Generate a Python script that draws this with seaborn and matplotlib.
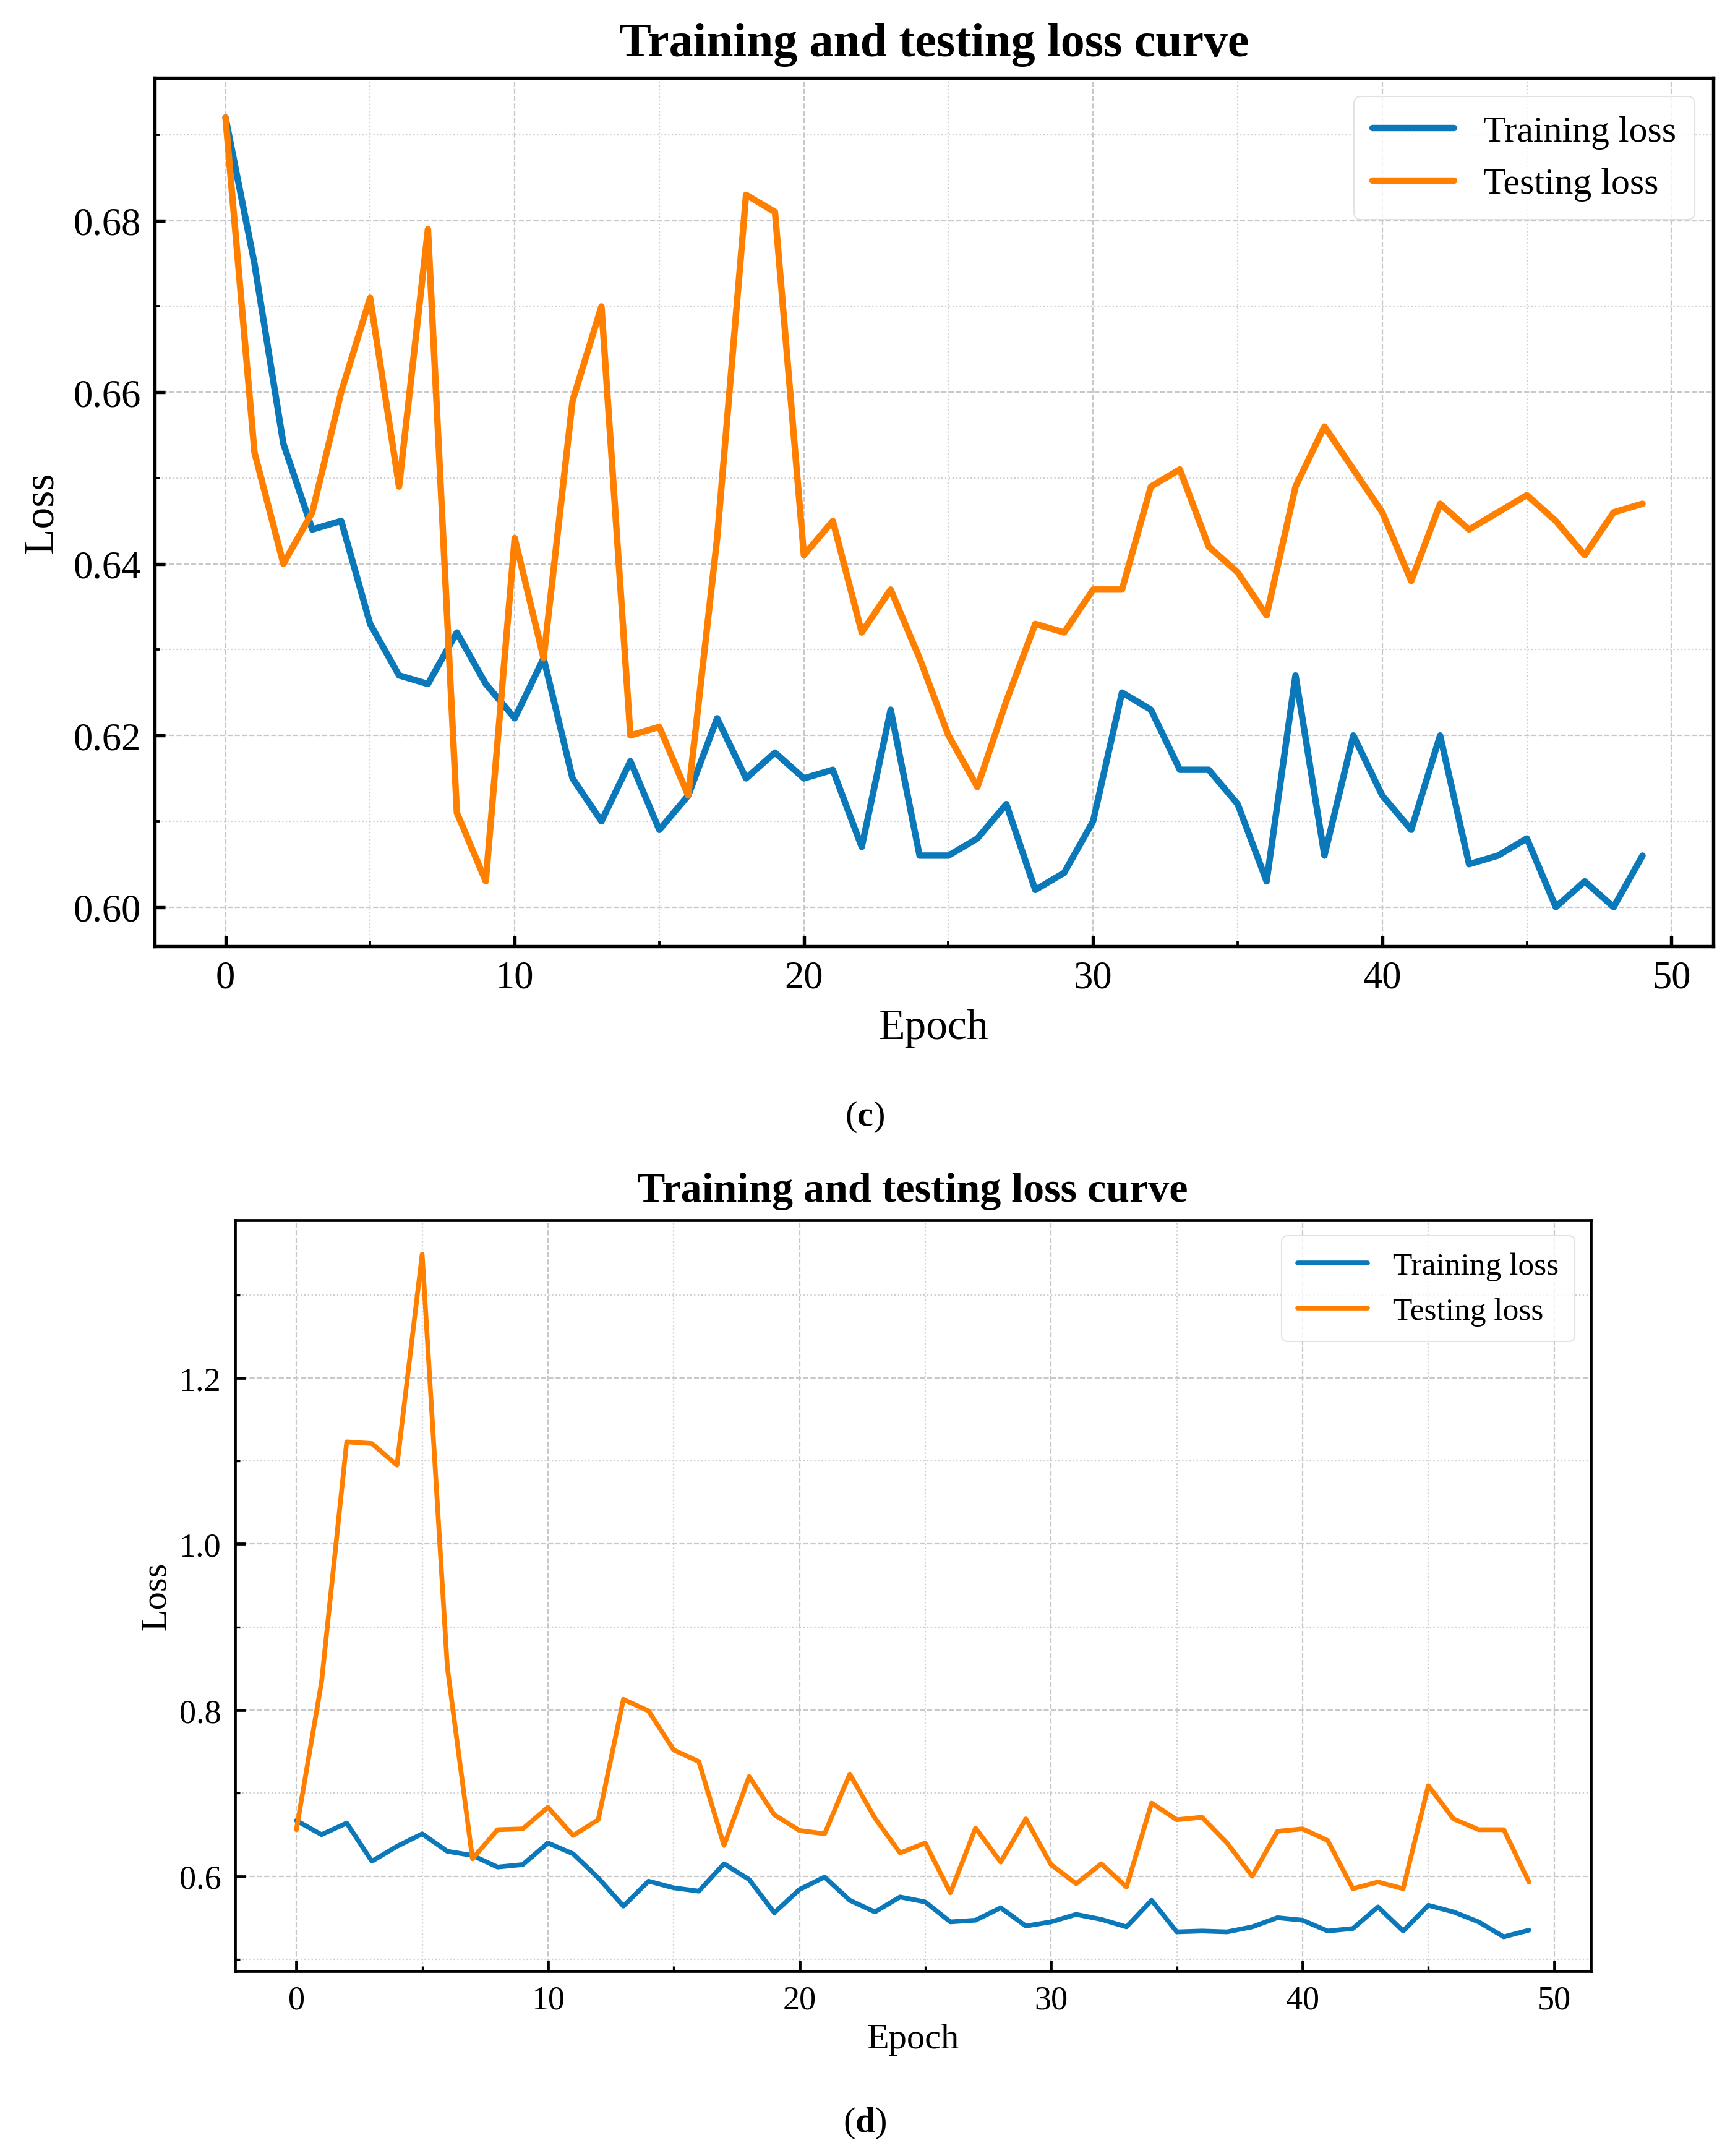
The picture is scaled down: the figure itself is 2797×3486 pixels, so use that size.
import numpy as np
import pandas as pd
import matplotlib
matplotlib.use('Agg')
import matplotlib.pyplot as plt
import seaborn as sns
from matplotlib.ticker import MultipleLocator

# values, one per epoch
epochs = list(range(50))

train_c = [0.692, 0.675, 0.654, 0.644, 0.645, 0.633, 0.627, 0.626, 0.632, 0.626,
           0.622, 0.629, 0.615, 0.610, 0.617, 0.609, 0.613, 0.622, 0.615, 0.618,
           0.615, 0.616, 0.607, 0.623, 0.606, 0.606, 0.608, 0.612, 0.602, 0.604,
           0.610, 0.625, 0.623, 0.616, 0.616, 0.612, 0.603, 0.627, 0.606, 0.620,
           0.613, 0.609, 0.620, 0.605, 0.606, 0.608, 0.600, 0.603, 0.600, 0.606]
test_c = [0.692, 0.653, 0.640, 0.646, 0.660, 0.671, 0.649, 0.679, 0.611, 0.603,
          0.643, 0.629, 0.659, 0.670, 0.620, 0.621, 0.613, 0.643, 0.683, 0.681,
          0.641, 0.645, 0.632, 0.637, 0.629, 0.620, 0.614, 0.624, 0.633, 0.632,
          0.637, 0.637, 0.649, 0.651, 0.642, 0.639, 0.634, 0.649, 0.656, 0.651,
          0.646, 0.638, 0.647, 0.644, 0.646, 0.648, 0.645, 0.641, 0.646, 0.647]

train_d = [0.667, 0.650, 0.664, 0.618, 0.636, 0.651, 0.630, 0.625, 0.611, 0.614,
           0.640, 0.627, 0.598, 0.564, 0.594, 0.586, 0.582, 0.615, 0.596, 0.556,
           0.584, 0.599, 0.571, 0.557, 0.575, 0.569, 0.545, 0.547, 0.562, 0.540,
           0.545, 0.554, 0.548, 0.539, 0.571, 0.533, 0.534, 0.533, 0.539, 0.550,
           0.547, 0.534, 0.537, 0.563, 0.534, 0.565, 0.557, 0.545, 0.527, 0.535]
test_d = [0.656, 0.834, 1.123, 1.121, 1.095, 1.349, 0.852, 0.621, 0.656, 0.657,
          0.683, 0.649, 0.668, 0.813, 0.799, 0.752, 0.738, 0.637, 0.720, 0.674,
          0.655, 0.651, 0.723, 0.670, 0.628, 0.640, 0.580, 0.658, 0.617, 0.669,
          0.614, 0.591, 0.615, 0.587, 0.688, 0.668, 0.671, 0.640, 0.600, 0.654,
          0.657, 0.643, 0.585, 0.593, 0.585, 0.709, 0.669, 0.656, 0.656, 0.593]

series_names = ['Training loss', 'Testing loss']
colors = ['#0B78B9', '#FF8000']

sns.set_theme(style='white')
plt.rcParams['font.family'] = ['Liberation Serif', 'DejaVu Serif']
plt.rcParams['mathtext.fontset'] = 'custom'
plt.rcParams['mathtext.rm'] = 'Liberation Serif'
plt.rcParams['mathtext.bf'] = 'Liberation Serif:bold'
plt.rcParams['text.color'] = 'black'
plt.rcParams['axes.labelcolor'] = 'black'
plt.rcParams['xtick.color'] = 'black'
plt.rcParams['ytick.color'] = 'black'


def long_form(train, test):
    return pd.DataFrame({
        'Epoch': epochs * 2,
        'Loss': train + test,
        'series': [series_names[0]] * len(train) + [series_names[1]] * len(test),
    })


def draw_panel(ax, df, ymajor, yminor, fmt, sizes):
    title_fs, label_fs, tick_fs, leg_fs, lw, spine_w, title_pad, lpad = sizes
    sns.lineplot(data=df, x='Epoch', y='Loss', hue='series', palette=colors,
                 hue_order=series_names, linewidth=lw, ax=ax)
    ax.set_title('Training and testing loss curve', fontsize=title_fs,
                 fontweight='bold', pad=title_pad, color='black')
    ax.set_xlabel('Epoch', fontsize=label_fs, labelpad=lpad)
    ax.set_ylabel('Loss', fontsize=label_fs, labelpad=lpad)
    ax.xaxis.set_major_locator(MultipleLocator(10))
    ax.xaxis.set_minor_locator(MultipleLocator(5))
    ax.yaxis.set_major_locator(MultipleLocator(ymajor))
    ax.yaxis.set_minor_locator(MultipleLocator(yminor))
    ax.yaxis.set_major_formatter(matplotlib.ticker.FormatStrFormatter(fmt))
    ax.grid(which='major', linestyle='--', color='#c8c8c8', linewidth=1.6)
    ax.grid(which='minor', linestyle=':', color='#cfcfcf', linewidth=1.6)
    ax.tick_params(which='both', bottom=True, left=True, top=False, right=False)
    ax.tick_params(which='major', direction='in', length=12, width=spine_w,
                   labelsize=tick_fs, pad=16, color='black')
    ax.tick_params(which='minor', direction='in', length=6, width=spine_w * 0.7,
                   color='black')
    for sp in ax.spines.values():
        sp.set_linewidth(spine_w)
        sp.set_color('black')
    leg = ax.legend(loc='upper right', fontsize=leg_fs, frameon=True,
                    handlelength=2.2, borderpad=0.5)
    leg.get_frame().set_edgecolor('#dddddd')
    leg.get_frame().set_linewidth(1.5)
    for h in leg.get_lines():
        h.set_linewidth(lw)


fig = plt.figure(figsize=(27.97, 34.87), dpi=100)
ax1 = fig.add_axes([0.0894, 0.5608, 0.9010, 0.4027])
ax2 = fig.add_axes([0.1357, 0.0858, 0.7837, 0.3482])

draw_panel(ax1, long_form(train_c, test_c), 0.02, 0.01, '%.2f',
           (56, 50, 45, 43, 7.5, 3.9, 26, 14))
draw_panel(ax2, long_form(train_d, test_d), 0.2, 0.1, '%.1f',
           (49, 42, 39, 37, 5.5, 3.4, 22, 8))

fig.text(0.5, 0.482, r'($\mathbf{c}$)', ha='center', va='center', fontsize=42)
fig.text(0.5, 0.0155, r'($\mathbf{d}$)', ha='center', va='center', fontsize=42)

fig.savefig('out.png', dpi=100, facecolor='white')
